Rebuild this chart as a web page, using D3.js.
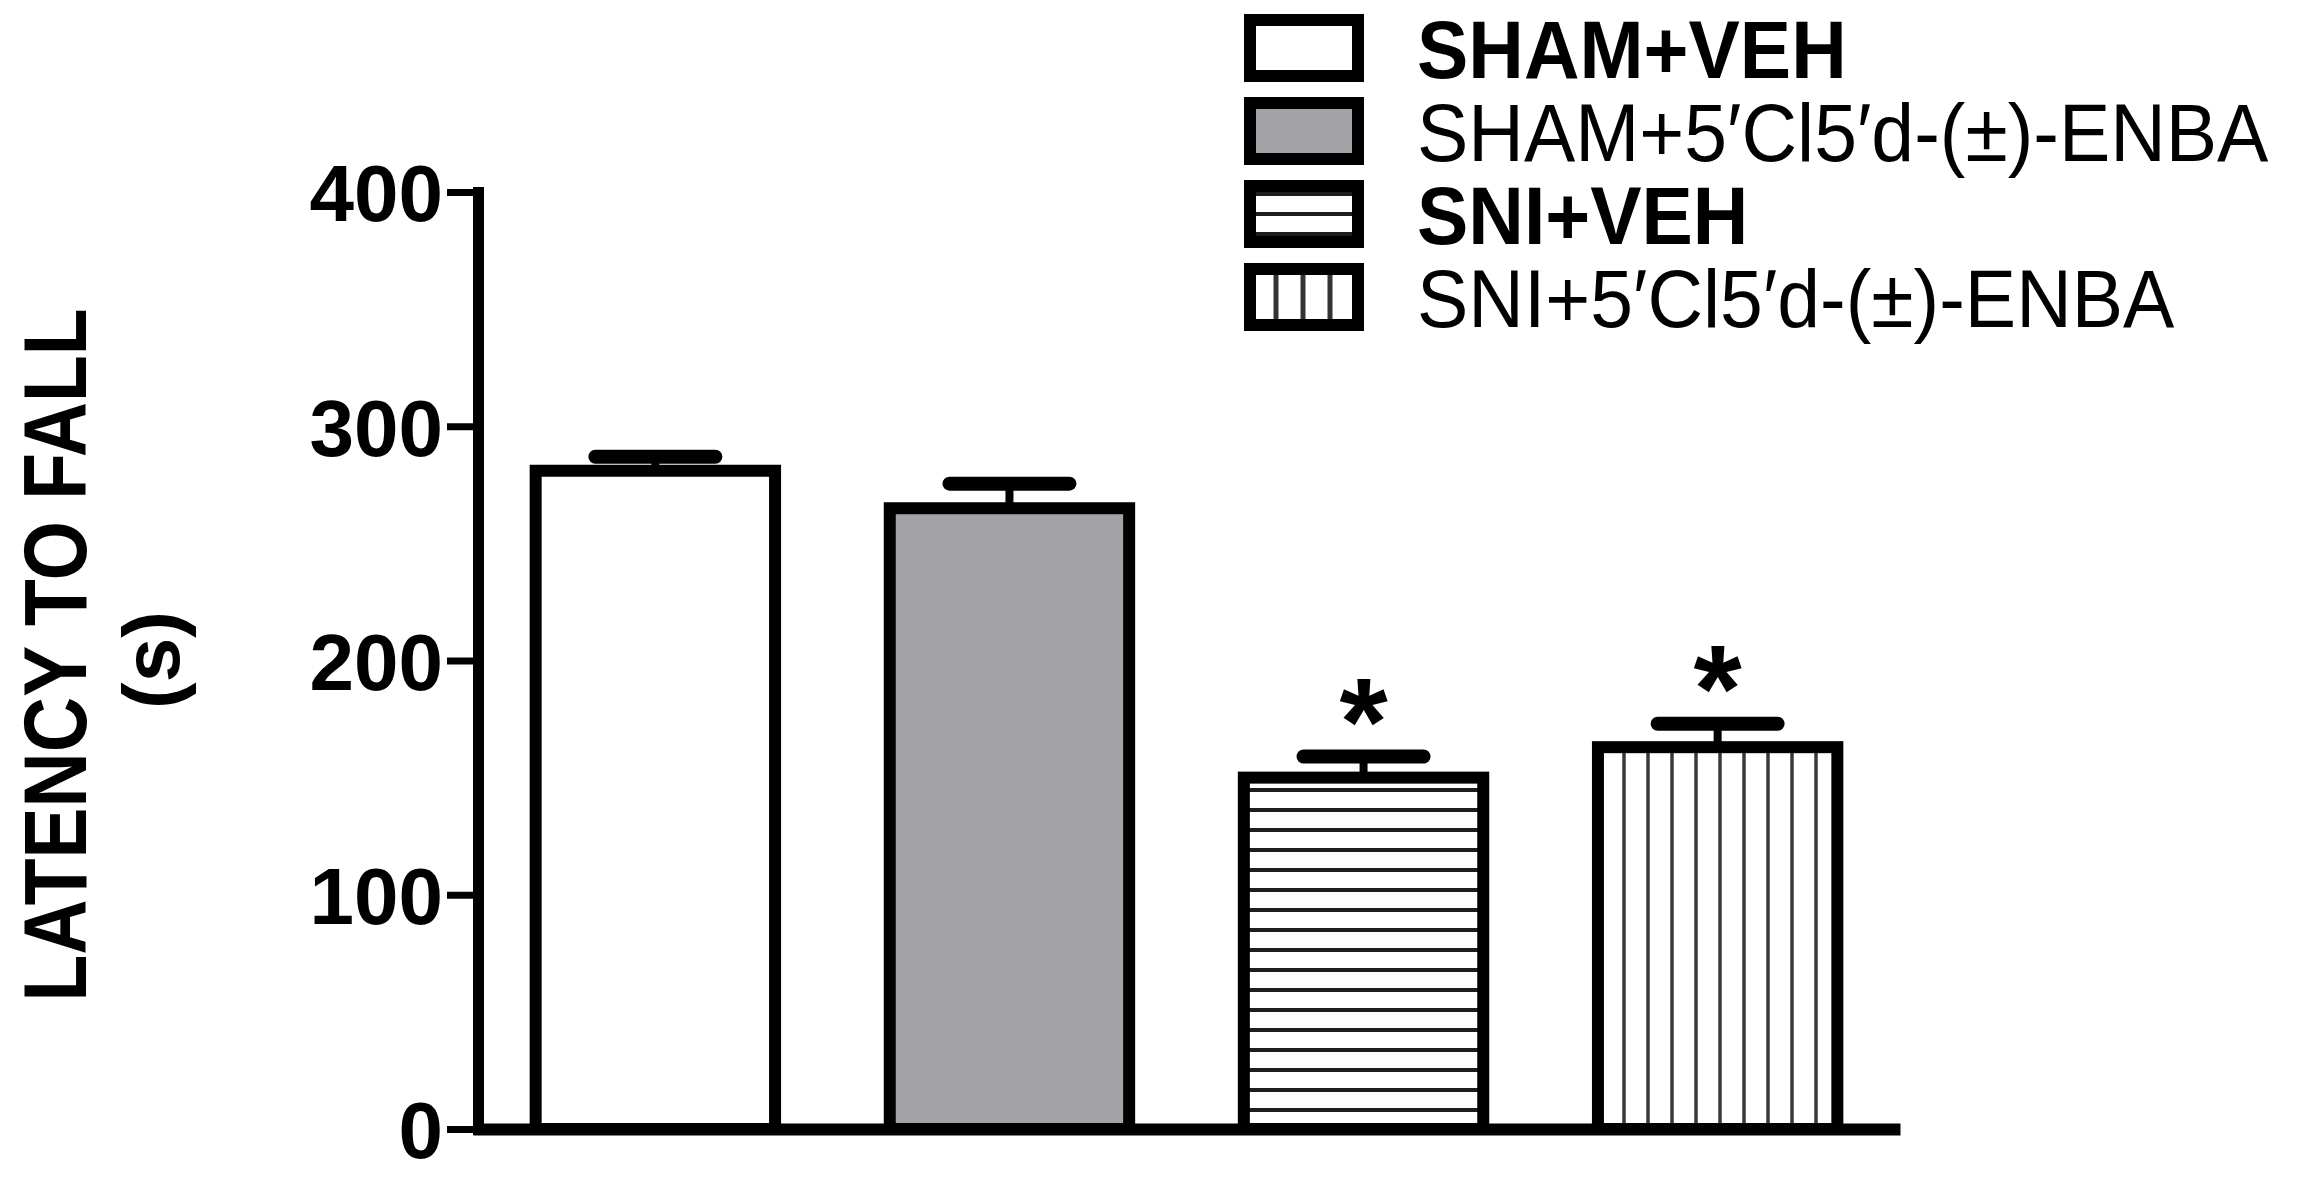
<!DOCTYPE html>
<meta charset="utf-8">
<style>

body {
  margin: 0;
  background-color: #fff;
}

svg text {
  font-family: "Liberation Sans", Arial, sans-serif;
  fill: #000;
}

</style>
<body>

<div id="chart"></div>

<script src="https://d3js.org/d3.v7.min.js"></script>
<script>

// data
var groups = ['SHAM+VEH', 'SHAM+5′Cl5′d-(±)-ENBA', 'SNI+VEH', 'SNI+5′Cl5′d-(±)-ENBA'];
var means = [281, 265, 150, 163];
var sems = [6, 10.5, 9, 10];
var signif = [false, false, true, true];
var yTicks = [0, 100, 200, 300, 400];
var legendBold = [true, false, true, false];
var fills = ['#ffffff', '#a3a2a7', 'url(#hstripe)', 'url(#vstripe)'];
var legendFills = ['#ffffff', '#a3a2a7', 'url(#hstripe)', 'url(#vstripeLeg)'];

drawChart();

function drawChart(){
	var width = 2319,
	    height = 1179;

	var svg = d3.select('#chart').append('svg')
		.attr('width', width)
		.attr('height', height);

	// fill patterns for the striped bars
	var defs = svg.append('defs');

	var hp = defs.append('pattern')
		.attr('id', 'hstripe')
		.attr('patternUnits', 'userSpaceOnUse')
		.attr('width', 20).attr('height', 20);
	hp.append('rect').attr('width', 20).attr('height', 20).style('fill', '#fff');
	hp.append('line').attr('x1', 0).attr('x2', 20).attr('y1', 10).attr('y2', 10)
		.style('stroke', '#1e1e1e').style('stroke-width', 4);

	var vp = defs.append('pattern')
		.attr('id', 'vstripe')
		.attr('patternUnits', 'userSpaceOnUse')
		.attr('width', 24).attr('height', 24);
	vp.append('rect').attr('width', 24).attr('height', 24).style('fill', '#fff');
	vp.append('line').attr('x1', 16).attr('x2', 16).attr('y1', 0).attr('y2', 24)
		.style('stroke', '#3a3a3a').style('stroke-width', 3.5);

	var vl = defs.append('pattern')
		.attr('id', 'vstripeLeg')
		.attr('patternUnits', 'userSpaceOnUse')
		.attr('width', 27).attr('height', 27);
	vl.append('rect').attr('width', 27).attr('height', 27).style('fill', '#fff');
	vl.append('line').attr('x1', 7).attr('x2', 7).attr('y1', 0).attr('y2', 27)
		.style('stroke', '#333').style('stroke-width', 5);

	var x = d3.scaleBand()
		.domain(groups)
		.range([473, 1900])
		.paddingInner(0.29)
		.paddingOuter(0.16);

	var y = d3.scaleLinear()
		.domain([0, 400])
		.range([1129, 192]);

	var bw = 12; // bar border

	// bars
	svg.selectAll('.bar')
		.data(groups)
		.enter().append('rect')
		.attr('class', 'bar')
		.attr('x', function(d){ return x(d) + bw/2; })
		.attr('width', x.bandwidth() - bw)
		.attr('y', function(d, i){ return y(means[i]); })
		.attr('height', function(d, i){ return y(0) - y(means[i]); })
		.style('fill', function(d, i){ return fills[i]; })
		.style('stroke', '#000')
		.style('stroke-width', bw);

	// error bars (upper only)
	var eb = svg.selectAll('.err')
		.data(groups)
		.enter().append('g')
		.attr('class', 'err');

	eb.append('line')
		.attr('x1', function(d){ return x(d) + x.bandwidth()/2; })
		.attr('x2', function(d){ return x(d) + x.bandwidth()/2; })
		.attr('y1', function(d, i){ return y(means[i]); })
		.attr('y2', function(d, i){ return y(means[i] + sems[i]); })
		.style('stroke', '#000')
		.style('stroke-width', 8);

	eb.append('line')
		.attr('x1', function(d){ return x(d) + x.bandwidth()/2 - 60; })
		.attr('x2', function(d){ return x(d) + x.bandwidth()/2 + 60; })
		.attr('y1', function(d, i){ return y(means[i] + sems[i]); })
		.attr('y2', function(d, i){ return y(means[i] + sems[i]); })
		.style('stroke', '#000')
		.style('stroke-width', 14)
		.style('stroke-linecap', 'round');

	// significance stars
	svg.selectAll('.star')
		.data(groups.filter(function(d, i){ return signif[i]; }))
		.enter().append('text')
		.attr('class', 'star')
		.attr('x', function(d){ return x(d) + x.bandwidth()/2; })
		.attr('y', function(d){
			var i = groups.indexOf(d);
			return y(means[i] + sems[i]) + 8;
		})
		.attr('text-anchor', 'middle')
		.style('font-size', '124px')
		.style('font-weight', 'bold')
		.text('*');

	// x axis (no labels)
	var xAxis = svg.append('g')
		.attr('transform', 'translate(0,' + y(0) + ')')
		.call(d3.axisBottom(x).tickSize(0).tickFormat(''));
	xAxis.select('.domain')
		.style('stroke', '#000')
		.style('stroke-width', 12);

	// y axis
	var yAxis = svg.append('g')
		.attr('transform', 'translate(478,0)')
		.call(d3.axisLeft(y).tickValues(yTicks).tickSize(31).tickSizeOuter(0).tickPadding(4));
	yAxis.select('.domain')
		.style('stroke', '#000')
		.style('stroke-width', 11)
		.style('stroke-linecap', 'square');
	yAxis.selectAll('.tick line')
		.style('stroke', '#000')
		.style('stroke-width', 7);
	yAxis.selectAll('.tick text')
		.attr('dy', '0.36em')
		.style('font-family', '"Liberation Sans", Arial, sans-serif')
		.style('font-size', '80px')
		.style('font-weight', 'bold')
		.style('fill', '#000');

	// y axis title
	var t1 = svg.append('g')
		.attr('transform', 'translate(86,655) rotate(-90) scale(0.86,1)');
	t1.append('text')
		.attr('text-anchor', 'middle')
		.style('font-size', '89px')
		.style('font-weight', 'bold')
		.text('LATENCY TO FALL');

	svg.append('g')
		.attr('transform', 'translate(179,660) rotate(-90)')
		.append('text')
		.attr('text-anchor', 'middle')
		.style('font-size', '80px')
		.style('font-weight', 'bold')
		.text('(s)');

	// legend
	var leg = svg.selectAll('.leg')
		.data(groups)
		.enter().append('g')
		.attr('class', 'leg')
		.attr('transform', function(d, i){ return 'translate(0,' + (78 + i*83) + ')'; });

	leg.append('rect')
		.attr('x', 1250)
		.attr('y', -58)
		.attr('width', 108)
		.attr('height', 56)
		.style('fill', function(d, i){ return legendFills[i]; })
		.style('stroke', '#000')
		.style('stroke-width', 12);

	leg.append('g')
		.attr('transform', 'translate(1417,0) scale(0.95,1)')
		.append('text')
		.style('font-size', '81px')
		.style('font-weight', function(d, i){ return legendBold[i] ? 'bold' : 'normal'; })
		.text(function(d){ return d; });
}

</script>
